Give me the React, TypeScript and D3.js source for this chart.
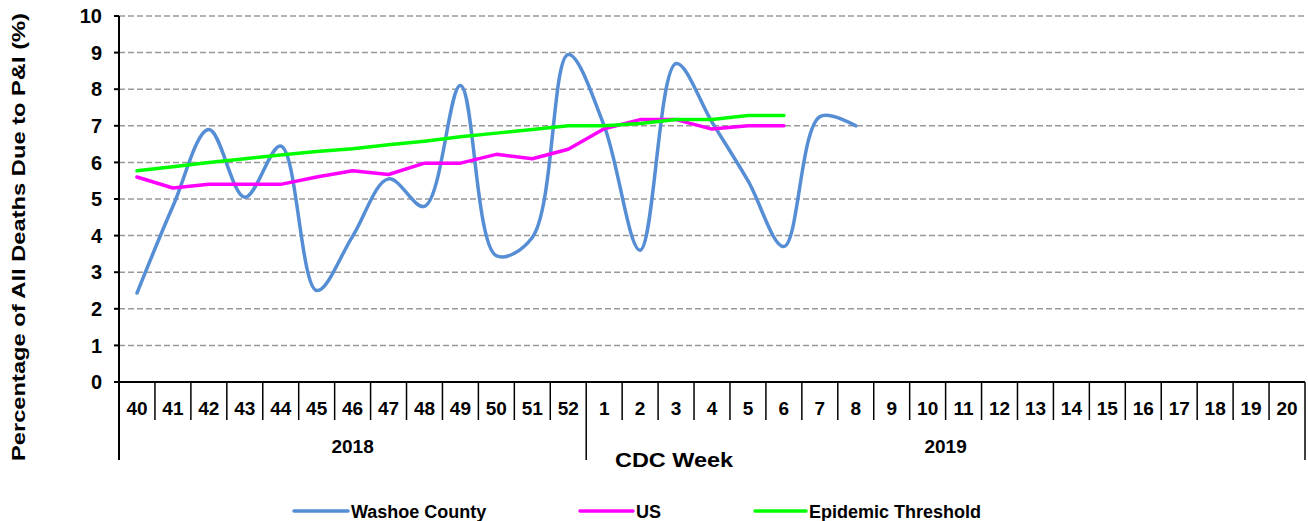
import * as d3 from "d3"

const weeks2018 = ["40", "41", "42", "43", "44", "45", "46", "47", "48", "49", "50", "51", "52"]
const weeks2019 = ["1", "2", "3", "4", "5", "6", "7", "8", "9", "10", "11", "12", "13", "14", "15", "16", "17", "18", "19", "20"]
const years = ["2018", "2019"]

// values by week, starting at week 40 of 2018
const washoe = [2.43, 4.8, 6.9, 5.05, 6.45, 2.5, 3.98, 5.55, 4.8, 8.1, 3.45, 3.95, 8.95, 7.0, 3.6, 8.7, 7.1, 5.5, 3.7, 7.25, 7.0]
const us = [5.6, 5.3, 5.4, 5.4, 5.4, 5.6, 5.77, 5.67, 5.98, 5.98, 6.22, 6.1, 6.36, 6.92, 7.17, 7.17, 6.91, 7.0, 7.0]
const threshold = [5.77, 5.88, 6.0, 6.1, 6.2, 6.3, 6.37, 6.48, 6.58, 6.7, 6.8, 6.9, 7.0, 7.0, 7.06, 7.17, 7.17, 7.28, 7.28]
const yTicks = [0, 1, 2, 3, 4, 5, 6, 7, 8, 9, 10]

const series = [
    { name: "Washoe County", values: washoe, color: "#558ED5", smooth: true },
    { name: "US", values: us, color: "#FF00FF", smooth: false },
    { name: "Epidemic Threshold", values: threshold, color: "#00FF00", smooth: false },
]

const width = 1308
const height = 521
const font = "'Liberation Sans', Arial, sans-serif"

export default function App() {
    const margin = { top: 16, right: 3, bottom: 139, left: 119 }
    const plotBottom = height - margin.bottom
    const cats = [...weeks2018.map(w => "a" + w), ...weeks2019.map(w => "b" + w)]
    const labels = [...weeks2018, ...weeks2019]

    const x = d3.scaleBand<string>()
        .domain(cats)
        .range([margin.left, width - margin.right])
        .padding(0)
    const y = d3.scaleLinear()
        .domain([0, 10])
        .range([plotBottom, margin.top])

    const cx = (i: number) => (x(cats[i]) ?? 0) + x.bandwidth() / 2

    const lineFor = (smooth: boolean) =>
        d3.line<number>()
            .x((_, i) => cx(i))
            .y(d => y(d))
            .curve(smooth ? d3.curveCatmullRom.alpha(0.5) : d3.curveLinear)

    const splitX = x(cats[weeks2018.length]) ?? 0
    const rightX = width - margin.right
    const yearCenters = [(margin.left + splitX) / 2, (splitX + rightX) / 2]

    const legendItems = [
        { x1: 294, x2: 348, tx: 351 },
        { x1: 580, x2: 633, tx: 636 },
        { x1: 755, x2: 806, tx: 809 },
    ]

    return (
        <svg width={width} height={height} style={{ position: "absolute", left: 0, top: 0 }} fontFamily={font} fontWeight="bold">
            {/* gridlines */}
            {yTicks.filter(t => t > 0).map(t => (
                <line key={t} x1={margin.left} x2={rightX} y1={y(t)} y2={y(t)}
                    stroke="#999" strokeWidth={1.5} strokeDasharray="6 3" />
            ))}

            {/* y axis */}
            <line x1={margin.left} x2={margin.left} y1={margin.top} y2={460} stroke="#000" strokeWidth={2} />
            {yTicks.map(t => (
                <g key={t}>
                    <line x1={margin.left - 5} x2={margin.left} y1={y(t)} y2={y(t)} stroke="#000" strokeWidth={2} />
                    <text x={102} y={y(t)} dy="0.36em" textAnchor="end" fontSize={20}>{t}</text>
                </g>
            ))}
            <text transform="translate(25,237) rotate(-90)" textAnchor="middle" fontSize={19}
                textLength={448} lengthAdjust="spacingAndGlyphs">
                Percentage of All Deaths Due to P&amp;I (%)
            </text>

            {/* x axis */}
            <line x1={margin.left} x2={rightX} y1={plotBottom} y2={plotBottom} stroke="#000" strokeWidth={2} />
            {cats.map((c, i) => {
                const bx = (x(c) ?? 0) + x.bandwidth()
                const long = i === weeks2018.length - 1 || i === cats.length - 1
                return (
                    <g key={c}>
                        <line x1={bx} x2={bx} y1={plotBottom} y2={long ? 460 : 420} stroke="#000" strokeWidth={1.5} />
                        <text x={cx(i)} y={415} textAnchor="middle" fontSize={19}>{labels[i]}</text>
                    </g>
                )
            })}
            {years.map((yr, i) => (
                <text key={yr} x={yearCenters[i]} y={453} textAnchor="middle" fontSize={19}>{yr}</text>
            ))}
            <text x={674} y={467} textAnchor="middle" fontSize={21} textLength={118} lengthAdjust="spacingAndGlyphs">CDC Week</text>

            {/* series */}
            {series.map(s => (
                <path key={s.name} d={lineFor(s.smooth)(s.values) ?? ""} fill="none"
                    stroke={s.color} strokeWidth={3.5} strokeLinecap="round" strokeLinejoin="round" />
            ))}

            {/* legend */}
            {series.map((s, i) => (
                <g key={s.name}>
                    <line x1={legendItems[i].x1} x2={legendItems[i].x2} y1={511} y2={511}
                        stroke={s.color} strokeWidth={3.5} strokeLinecap="round" />
                    <text x={legendItems[i].tx} y={518} fontSize={18}>{s.name}</text>
                </g>
            ))}
        </svg>
    )
}
